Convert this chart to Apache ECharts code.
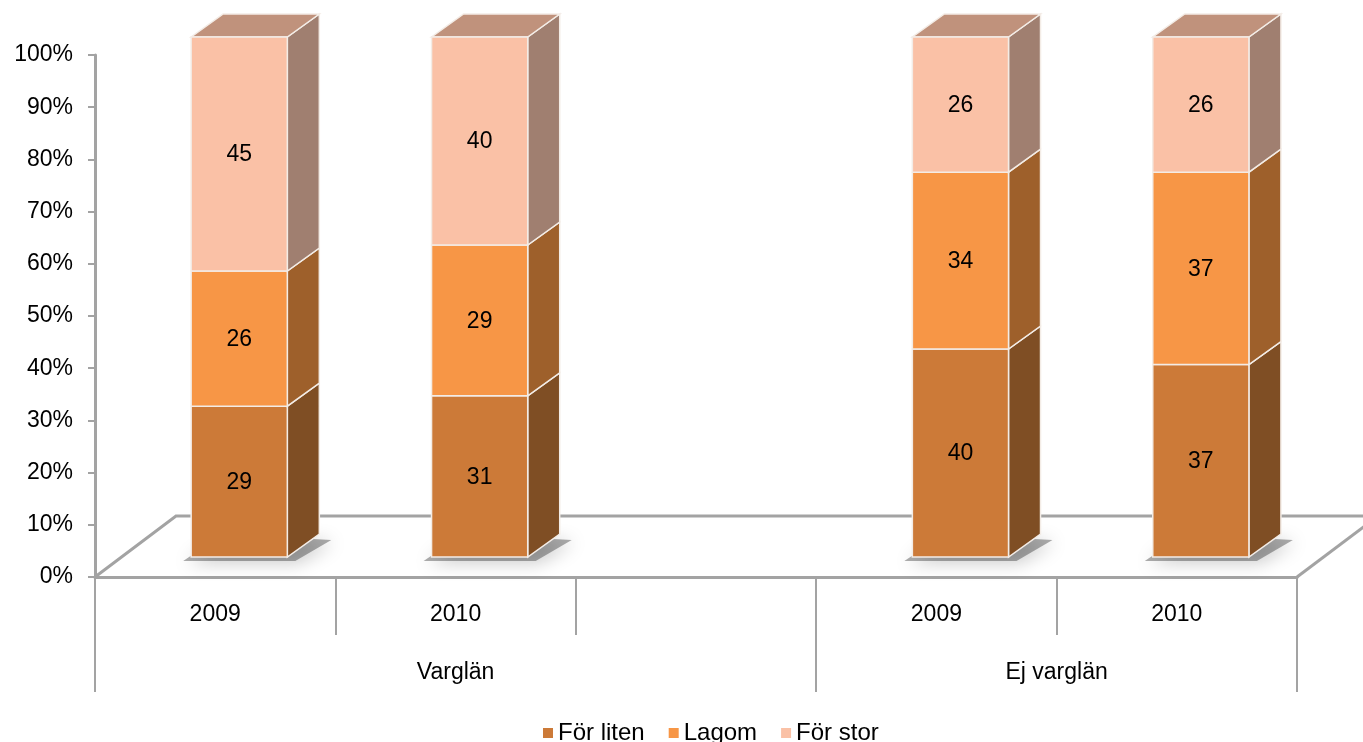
<!DOCTYPE html>
<html>
<head>
<meta charset="utf-8">
<script src="https://cdn.jsdelivr.net/npm/echarts@6/dist/echarts.min.js"></script>
<style>
  html, body { margin: 0; padding: 0; background: #fff; }
  #chart { width: 1363px; height: 742px; }
</style>
</head>
<body>
<div id="chart"></div>
<script>
// data
const categories = ['2009', '2010', '', '2009', '2010'];
const groups = ['Varglän', 'Ej varglän'];
const groupSizes = [3, 2];
const seriesNames = ['För liten', 'Lagom', 'För stor'];
const forLiten = [29, 31, null, 40, 37];
const lagom = [26, 29, null, 34, 37];
const forStor = [45, 40, null, 26, 26];

const font = "'Liberation Sans', Arial, sans-serif";
const gray = '#a3a3a3';
const front = ['#cc7a38', '#f79646', '#fac1a6'];
const side = ['#7f4e24', '#9e602b', '#a07f70'];
const topFace = ['#a86230', '#c47a3c', '#c0927c'];
const depth = [32, -23];

// group boundaries / centers for the 2nd level axis
const groupEdges = [0];
groupSizes.forEach(s => groupEdges.push(groupEdges[groupEdges.length - 1] + s));
const groupCenters = groups.map((g, i) => (groupEdges[i] + groupEdges[i + 1]) / 2);

// stacked segments
const allVals = [forLiten, lagom, forStor];
const segments = allVals.map(() => []);
categories.forEach((c, i) => {
  let acc = 0;
  allVals.forEach((arr, s) => {
    if (arr[i] == null) return;
    segments[s].push([i, acc, acc + arr[i], arr[i]]);
    acc += arr[i];
  });
});

const chart = echarts.init(document.getElementById('chart'));

function barItem(s) {
  return function (params, api) {
    const band = api.size([1, 0])[0];
    const b = api.coord([api.value(0), api.value(1)]);
    const t = api.coord([api.value(0), api.value(2)]);
    const x0 = b[0] - band * 0.1;
    const x1 = b[0] + band * 0.3;
    const yb = b[1], yt = t[1];
    const [dx, dy] = depth;
    const children = [];
    if (s === 0) {
      // soft shadow under the column
      children.push({
        type: 'polygon',
        shape: { points: [[x0 - 8, yb + 4], [x1 + 8, yb + 4], [x1 + dx + 12, yb + dy + 6], [x0 + dx, yb + dy]] },
        style: { fill: 'rgba(0,0,0,0.32)', shadowBlur: 18, shadowColor: 'rgba(0,0,0,0.65)', shadowOffsetX: 3, shadowOffsetY: 2 }
      });
    }
    children.push({
      type: 'polygon',
      shape: { points: [[x1, yb], [x1, yt], [x1 + dx, yt + dy], [x1 + dx, yb + dy]] },
      style: { fill: side[s], stroke: '#f3ece6', lineWidth: 1.5 }
    });
    if (s === seriesNames.length - 1) {
      children.push({
        type: 'polygon',
        shape: { points: [[x0, yt], [x1, yt], [x1 + dx, yt + dy], [x0 + dx, yt + dy]] },
        style: { fill: topFace[s], stroke: '#f3ece6', lineWidth: 1.5 }
      });
    }
    children.push({
      type: 'rect',
      shape: { x: x0, y: yt, width: x1 - x0, height: yb - yt },
      style: { fill: front[s], stroke: '#f3ece6', lineWidth: 1.5 }
    });
    children.push({
      type: 'text',
      style: {
        x: (x0 + x1) / 2, y: (yt + yb) / 2 + 1, text: String(api.value(3)),
        fill: '#000', font: '23px ' + font, align: 'center', verticalAlign: 'middle'
      }
    });
    return { type: 'group', children: children };
  };
}

function floorItem(params, api) {
  const band = api.size([1, 0])[0];
  const l = api.coord([0, 0]);
  const r = api.coord([categories.length - 1, 0]);
  const left = l[0] - band / 2, right = r[0] + band / 2, y0 = l[1];
  const dx = 81, dy = -61;
  const W = api.getWidth() + 50;
  const line = { stroke: gray, lineWidth: 3, fill: null };
  return {
    type: 'group',
    children: [
      { type: 'polyline', shape: { points: [[left, y0], [left + dx, y0 + dy], [W, y0 + dy]] }, style: line },
      { type: 'line', shape: { x1: right, y1: y0, x2: right + dx, y2: y0 + dy }, style: line }
    ]
  };
}

const option = {
  animation: false,
  textStyle: { fontFamily: font },
  grid: [
    { left: 95, right: 66, top: 55, bottom: 165 },
    { left: 95, right: 66, top: 37, bottom: 185 }
  ],
  legend: {
    data: seriesNames,
    top: 716,
    left: 538,
    icon: 'rect',
    itemWidth: 10,
    itemHeight: 10,
    itemGap: 24,
    textStyle: { fontSize: 24, color: '#000', fontFamily: font }
  },
  xAxis: [
    {
      type: 'category', gridIndex: 0, data: categories,
      axisLine: { show: true, lineStyle: { color: gray, width: 3 } },
      axisTick: { show: true, interval: 0, length: 58, lineStyle: { color: gray, width: 2 } },
      axisLabel: { interval: 0, margin: 26, fontSize: 23, color: '#000', fontFamily: font }
    },
    {
      type: 'value', gridIndex: 0, min: 0, max: categories.length, position: 'bottom',
      axisLine: { show: false },
      splitLine: { show: false },
      axisTick: { show: true, length: 115, customValues: groupEdges, lineStyle: { color: gray, width: 2 } },
      axisLabel: {
        margin: 84, fontSize: 23, color: '#000', fontFamily: font,
        customValues: groupCenters,
        formatter: v => groups[groupCenters.indexOf(v)] || ''
      }
    },
    { type: 'category', gridIndex: 1, data: categories, show: false }
  ],
  yAxis: [
    {
      type: 'value', gridIndex: 0, min: 0, max: 100, interval: 10,
      axisLine: { show: true, lineStyle: { color: gray, width: 3 } },
      axisTick: { show: true, length: 7, lineStyle: { color: gray, width: 2 } },
      splitLine: { show: false },
      axisLabel: { formatter: '{value}%', margin: 22, fontSize: 23, color: '#000', fontFamily: font }
    },
    { type: 'value', gridIndex: 1, min: 0, max: 100, show: false }
  ],
  series: [
    {
      type: 'custom', name: 'floor', xAxisIndex: 0, yAxisIndex: 0,
      data: [[0, 0]], renderItem: floorItem, clip: false, silent: true, z: 1
    }
  ].concat(seriesNames.map((name, s) => ({
    type: 'custom', name: name, xAxisIndex: 2, yAxisIndex: 1,
    itemStyle: { color: front[s] },
    encode: { x: 0, y: [1, 2] },
    data: segments[s],
    renderItem: barItem(s),
    clip: false, z: 2
  })))
};

chart.setOption(option);
</script>
</body>
</html>
